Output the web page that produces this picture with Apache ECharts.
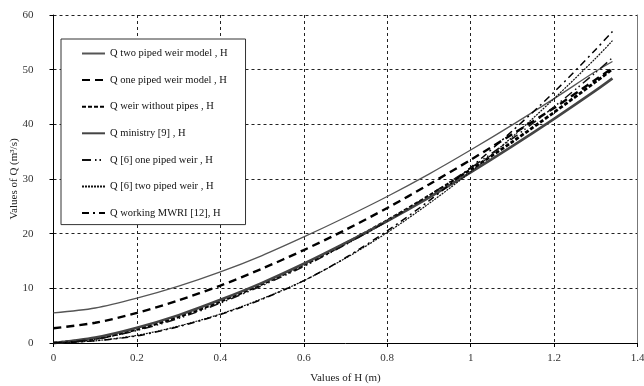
<!DOCTYPE html>
<html>
<head>
<meta charset="utf-8">
<script src="https://cdn.jsdelivr.net/npm/echarts@6/dist/echarts.min.js"></script>
<style>
  html, body { margin: 0; padding: 0; background: #fff; }
  #chart { width: 644px; height: 386px; }
</style>
</head>
<body>
<div id="chart"></div>
<script>
// Head H (m) at which every discharge curve is sampled
const hValues = [0, 0.1, 0.2, 0.3, 0.4, 0.5, 0.6, 0.7, 0.8, 0.9, 1.0, 1.1, 1.2, 1.3, 1.34];

// Discharge Q (m3/s) for each method
const qTwoPipedModel = [5.5, 6.4, 8.2, 10.4, 13.0, 16.0, 19.4, 23.0, 26.8, 30.9, 35.3, 39.9, 44.7, 49.7, 51.5];
const qOnePipedModel = [2.7, 3.7, 5.5, 7.8, 10.5, 13.6, 17.0, 20.7, 24.7, 29.0, 33.5, 38.2, 43.0, 48.2, 50.3];
const qWithoutPipes  = [0, 0.8, 2.5, 4.8, 7.6, 10.8, 14.3, 18.2, 22.4, 26.9, 31.7, 36.8, 42.2, 47.8, 50.1];
const qMinistry      = [0, 1.0, 2.8, 5.1, 7.9, 11.0, 14.5, 18.3, 22.3, 26.6, 31.2, 36.0, 41.0, 46.2, 48.4];
const qRef6OnePiped  = [0, 0.7, 2.3, 4.5, 7.3, 10.5, 14.0, 18.0, 22.3, 27.0, 32.0, 37.4, 43.2, 49.5, 52.2];
const qRef6TwoPiped  = [0, 0.4, 1.4, 3.1, 5.3, 8.1, 11.4, 15.5, 20.2, 25.5, 31.3, 37.7, 44.7, 52.1, 55.3];
const qWorkingMWRI   = [0, 0.4, 1.3, 3.0, 5.2, 8.0, 11.4, 15.6, 20.5, 26.0, 32.1, 38.8, 45.9, 53.7, 57.0];

const seriesNames = [
  'Q two piped weir model , H',
  'Q one piped weir model , H',
  'Q weir without pipes , H',
  'Q ministry [9] , H',
  'Q [6] one piped weir , H',
  'Q [6] two piped weir , H',
  'Q working MWRI [12], H'
];

const serif = '"Liberation Serif", "DejaVu Serif", serif';

function pairs(values) {
  return hValues.map((h, i) => [h, values[i]]);
}

function curve(name, values, lineStyle, z) {
  return {
    name: name,
    type: 'line',
    data: pairs(values),
    smooth: 0.3,
    symbol: 'none',
    z: z,
    lineStyle: lineStyle,
    itemStyle: { color: lineStyle.color }
  };
}

const chart = echarts.init(document.getElementById('chart'), null, { renderer: 'canvas' });

chart.setOption({
  backgroundColor: '#ffffff',
  animation: false,
  grid: { left: 53.5, right: 6.5, top: 15, bottom: 43, outerBoundsMode: 'none', containLabel: false },
  legend: {
    orient: 'vertical',
    left: 61,
    top: 39,
    padding: [9, 18, 6, 20],
    itemGap: 15.6,
    itemWidth: 23,
    itemHeight: 11,
    backgroundColor: '#ffffff',
    borderColor: '#333333',
    borderWidth: 1,
    itemStyle: { opacity: 0 },
    textStyle: { fontFamily: serif, fontSize: 10.5, color: '#111' },
    data: seriesNames
  },
  xAxis: {
    type: 'value',
    min: 0,
    max: 1.4,
    interval: 0.2,
    name: 'Values of H (m)',
    nameLocation: 'middle',
    nameGap: 30,
    nameMoveOverlap: false,
    nameTextStyle: { fontFamily: serif, fontSize: 11, color: '#222' },
    axisLine: { lineStyle: { color: '#000', width: 1 } },
    axisTick: { length: 4, lineStyle: { color: '#000' } },
    axisLabel: { fontFamily: serif, fontSize: 11, color: '#333', margin: 10 },
    splitLine: { show: true, lineStyle: { color: '#222', type: [3, 3], width: 1 } }
  },
  yAxis: [
    {
      type: 'value',
      min: 0,
      max: 60,
      interval: 10,
      name: 'Values of Q (m³/s)',
      nameLocation: 'middle',
      nameGap: 34,
      nameMoveOverlap: false,
      nameTextStyle: { fontFamily: serif, fontSize: 11, color: '#222' },
      axisLine: { show: true, lineStyle: { color: '#000', width: 1 } },
      axisTick: { show: true, length: 4, lineStyle: { color: '#000' } },
      axisLabel: { fontFamily: serif, fontSize: 11, color: '#333', margin: 20 },
      splitLine: { show: true, lineStyle: { color: '#222', type: [3, 3], width: 1 } }
    },
    {
      // plain frame line on the right side of the plot
      type: 'value',
      position: 'right',
      min: 0,
      max: 60,
      interval: 10,
      axisLine: { show: true, lineStyle: { color: '#777', width: 1 } },
      axisTick: { show: false },
      axisLabel: { show: false },
      splitLine: { show: false }
    }
  ],
  series: [
    curve(seriesNames[0], qTwoPipedModel, { color: '#555555', width: 1.3, type: 'solid' }, 3),
    curve(seriesNames[1], qOnePipedModel, { color: '#000000', width: 2.4, type: [8, 5] }, 4),
    curve(seriesNames[2], qWithoutPipes,  { color: '#000000', width: 2.8, type: [4, 2] }, 5),
    curve(seriesNames[3], qMinistry,      { color: '#444444', width: 2.6, type: 'solid' }, 6),
    curve(seriesNames[4], qRef6OnePiped,  { color: '#111111', width: 1.5, type: [9, 4, 1.5, 3, 1.5, 4] }, 7),
    curve(seriesNames[5], qRef6TwoPiped,  { color: '#111111', width: 1.2, type: [2, 1] }, 8),
    curve(seriesNames[6], qWorkingMWRI,   { color: '#000000', width: 1.5, type: [7, 4, 2, 4] }, 9)
  ]
});
</script>
</body>
</html>
